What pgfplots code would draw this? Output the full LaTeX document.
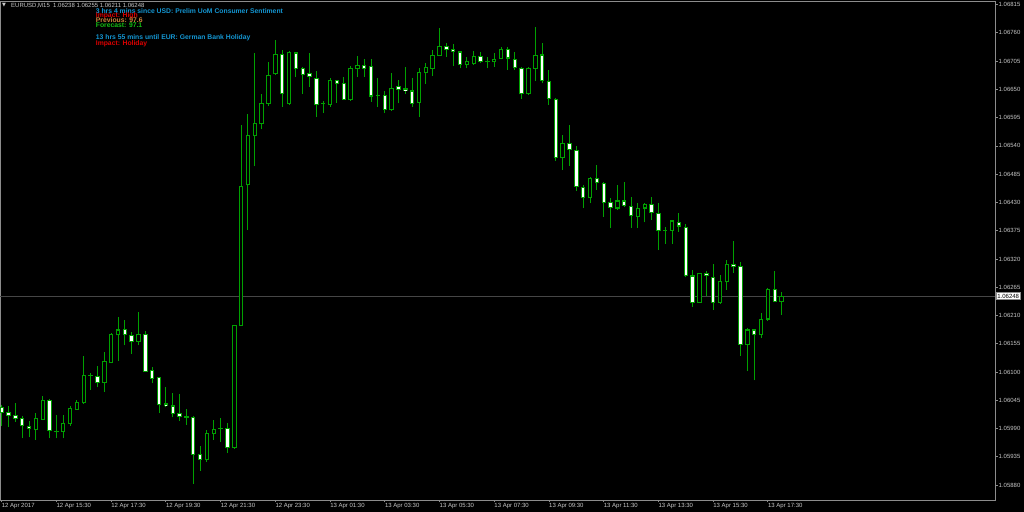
\documentclass[border=0pt]{standalone}
\usepackage{pgfplots}
\pgfplotsset{compat=1.18}
\usepackage{pgfplotstable}
\usepackage{fontspec}
\setmainfont{Liberation Sans}
\newfontfamily\symfont{DejaVu Sans}

\definecolor{cgreen}{RGB}{0,160,0}
\definecolor{cframe}{RGB}{140,140,140}
\definecolor{clabel}{RGB}{200,200,200}
\definecolor{cprice}{RGB}{70,70,70}
\definecolor{cnews}{RGB}{20,150,210}
\definecolor{cred}{RGB}{220,0,0}
\definecolor{cprev}{RGB}{205,130,60}
\definecolor{cfore}{RGB}{20,190,20}

% EURUSD M15, bar i = 12 Apr 13:30 + i*15min
\pgfplotstableread{
i o h l c
0 1.06032 1.06036 1.05995 1.06021
1 1.06021 1.06034 1.05993 1.06015
2 1.06016 1.06039 1.06003 1.06009
3 1.06010 1.06015 1.05971 1.05995
4 1.05995 1.06005 1.05973 1.05990
5 1.05988 1.06021 1.05968 1.06010
6 1.06008 1.06054 1.06006 1.06044
7 1.06045 1.06048 1.05971 1.05986
8 1.05984 1.06016 1.05971 1.05984
9 1.05984 1.06016 1.05971 1.06000
10 1.06000 1.06034 1.05995 1.06030
11 1.06027 1.06045 1.06026 1.06041
12 1.06040 1.06131 1.06038 1.06094
13 1.06094 1.06099 1.06066 1.06094
14 1.06092 1.06112 1.06070 1.06080
15 1.06080 1.06139 1.06062 1.06120
16 1.06118 1.06175 1.06117 1.06173
17 1.06172 1.06208 1.06122 1.06182
18 1.06183 1.06201 1.06152 1.06173
19 1.06172 1.06177 1.06136 1.06159
20 1.06159 1.06216 1.06152 1.06174
21 1.06173 1.06180 1.06100 1.06101
22 1.06103 1.06110 1.06078 1.06088
23 1.06090 1.06091 1.06020 1.06036
24 1.06038 1.06070 1.06031 1.06034
25 1.06034 1.06060 1.06012 1.06020
26 1.06019 1.06058 1.06005 1.06014
27 1.06014 1.06029 1.05997 1.06012
28 1.06012 1.06014 1.05883 1.05940
29 1.05940 1.05956 1.05908 1.05930
30 1.05930 1.05988 1.05925 1.05981
31 1.05981 1.06006 1.05968 1.05989
32 1.05990 1.06010 1.05964 1.05990
33 1.05990 1.06000 1.05942 1.05953
34 1.05953 1.06191 1.05951 1.06191
35 1.06191 1.06581 1.06191 1.06461
36 1.06464 1.06602 1.06376 1.06561
37 1.06561 1.06720 1.06500 1.06583
38 1.06583 1.06641 1.06572 1.06622
39 1.06623 1.06704 1.06618 1.06677
40 1.06680 1.06746 1.06678 1.06718
41 1.06718 1.06727 1.06616 1.06641
42 1.06622 1.06725 1.06620 1.06722
43 1.06721 1.06723 1.06675 1.06690
44 1.06690 1.06694 1.06642 1.06679
45 1.06681 1.06721 1.06655 1.06675
46 1.06672 1.06685 1.06596 1.06620
47 1.06622 1.06628 1.06604 1.06622
48 1.06620 1.06672 1.06616 1.06667
49 1.06667 1.06668 1.06624 1.06661
50 1.06662 1.06675 1.06629 1.06631
51 1.06630 1.06696 1.06628 1.06691
52 1.06690 1.06715 1.06675 1.06697
53 1.06697 1.06709 1.06675 1.06691
54 1.06695 1.06709 1.06626 1.06637
55 1.06639 1.06672 1.06616 1.06639
56 1.06639 1.06646 1.06604 1.06611
57 1.06610 1.06681 1.06608 1.06652
58 1.06655 1.06668 1.06623 1.06650
59 1.06651 1.06694 1.06642 1.06648
60 1.06647 1.06672 1.06616 1.06623
61 1.06624 1.06691 1.06596 1.06683
62 1.06683 1.06701 1.06661 1.06693
63 1.06691 1.06727 1.06676 1.06717
64 1.06716 1.06769 1.06715 1.06733
65 1.06733 1.06741 1.06714 1.06727
66 1.06727 1.06738 1.06696 1.06723
67 1.06723 1.06725 1.06691 1.06699
68 1.06699 1.06714 1.06691 1.06704
69 1.06701 1.06725 1.06698 1.06714
70 1.06714 1.06723 1.06701 1.06704
71 1.06704 1.06714 1.06691 1.06704
72 1.06704 1.06720 1.06694 1.06709
73 1.06710 1.06733 1.06709 1.06728
74 1.06728 1.06732 1.06688 1.06711
75 1.06709 1.06723 1.06688 1.06692
76 1.06690 1.06694 1.06631 1.06641
77 1.06641 1.06694 1.06639 1.06691
78 1.06691 1.06772 1.06666 1.06717
79 1.06717 1.06740 1.06662 1.06667
80 1.06666 1.06688 1.06620 1.06633
81 1.06631 1.06633 1.06511 1.06517
82 1.06517 1.06561 1.06493 1.06545
83 1.06545 1.06581 1.06501 1.06533
84 1.06532 1.06540 1.06453 1.06461
85 1.06460 1.06464 1.06419 1.06440
86 1.06439 1.06480 1.06428 1.06477
87 1.06476 1.06503 1.06454 1.06468
88 1.06467 1.06470 1.06402 1.06430
89 1.06430 1.06438 1.06380 1.06420
90 1.06419 1.06464 1.06415 1.06433
91 1.06433 1.06470 1.06422 1.06424
92 1.06423 1.06440 1.06381 1.06404
93 1.06403 1.06428 1.06380 1.06419
94 1.06419 1.06428 1.06391 1.06426
95 1.06426 1.06440 1.06396 1.06410
96 1.06409 1.06428 1.06337 1.06375
97 1.06376 1.06383 1.06350 1.06376
98 1.06376 1.06394 1.06350 1.06394
99 1.06391 1.06409 1.06373 1.06384
100 1.06382 1.06388 1.06284 1.06287
101 1.06287 1.06298 1.06227 1.06236
102 1.06236 1.06293 1.06234 1.06292
103 1.06292 1.06297 1.06247 1.06288
104 1.06285 1.06310 1.06221 1.06236
105 1.06236 1.06289 1.06233 1.06276
106 1.06276 1.06318 1.06260 1.06310
107 1.06310 1.06355 1.06293 1.06305
108 1.06305 1.06315 1.06132 1.06154
109 1.06154 1.06185 1.06102 1.06182
110 1.06182 1.06182 1.06084 1.06173
111 1.06173 1.06214 1.06167 1.06203
112 1.06203 1.06264 1.06199 1.06261
113 1.06260 1.06297 1.06236 1.06238
114 1.06238 1.06255 1.06211 1.06248
}\candles

\begin{document}
\begin{tikzpicture}
\useasboundingbox (0,0) rectangle (1024bp,512bp);
\fill[black] (0,0) rectangle (1024bp,512bp);
\begin{axis}[
  at={(0,12bp)}, anchor=south west,
  scale only axis, width=995bp, height=499bp,
  xmin=-0.25, xmax=145.2,
  ymin=1.05851, ymax=1.06822,
  axis line style={draw=cframe, line width=0.8bp},
  tick align=outside, major tick length=2.5bp,
  tick style={cframe, line width=0.8bp},
  xtick pos=bottom, ytick pos=right,
  yticklabel pos=right,
  xtick={0,8,...,112},
  xticklabels={12 Apr 2017, 12 Apr 15:30, 12 Apr 17:30, 12 Apr 19:30, 12 Apr 21:30, 12 Apr 23:30, 13 Apr 01:30, 13 Apr 03:30, 13 Apr 05:30, 13 Apr 07:30, 13 Apr 09:30, 13 Apr 11:30, 13 Apr 13:30, 13 Apr 15:30, 13 Apr 17:30},
  ytick={1.05880,1.05935,1.05990,1.06045,1.06100,1.06155,1.06210,1.06265,1.06320,1.06375,1.06430,1.06485,1.06540,1.06595,1.06650,1.06705,1.06760,1.06815},
  yticklabels={1.05880,1.05935,1.05990,1.06045,1.06100,1.06155,1.06210,1.06265,1.06320,1.06375,1.06430,1.06485,1.06540,1.06595,1.06650,1.06705,1.06760,1.06815},
  xticklabel style={font=\fontsize{6bp}{7bp}\selectfont, text=clabel, anchor=north west, inner sep=0pt, yshift=-1bp},
  yticklabel style={font=\fontsize{6bp}{7bp}\selectfont, text=clabel, anchor=west, inner sep=0pt, xshift=1bp},
]
% current price level
\addplot[cprice, line width=0.8bp, forget plot] coordinates {(-0.25,1.06248) (145.2,1.06248)};
% wicks
\addplot[draw=none, forget plot, error bars/.cd, y dir=plus, y explicit, error mark=none,
  error bar style={cgreen, line width=1bp}]
  table[x=i, y=l, y error plus expr={\thisrow{h}-\thisrow{l}}] {\candles};
% body outlines
\addplot[draw=none, forget plot, error bars/.cd, y dir=plus, y explicit, error mark=none,
  error bar style={cgreen, line width=4.4bp}]
  table[x=i, y expr={min(\thisrow{o},\thisrow{c})-0.000009},
        y error plus expr={abs(\thisrow{c}-\thisrow{o})+0.000018}] {\candles};
% bear bodies (white)
\addplot[draw=none, forget plot, error bars/.cd, y dir=plus, y explicit, error mark=none,
  error bar style={white, line width=2.4bp}]
  table[x=i, y expr={\thisrow{c}<\thisrow{o} ? \thisrow{c}+0.000012 : nan},
        y error plus expr={max(\thisrow{o}-\thisrow{c}-0.000024,0)}] {\candles};
% bull bodies (black)
\addplot[draw=none, forget plot, error bars/.cd, y dir=plus, y explicit, error mark=none,
  error bar style={black, line width=2.4bp}]
  table[x=i, y expr={\thisrow{c}>\thisrow{o} ? \thisrow{o}+0.000012 : nan},
        y error plus expr={max(\thisrow{c}-\thisrow{o}-0.000024,0)}] {\candles};
\end{axis}

% price box
\node[fill=white, draw=cframe, line width=0.5bp, text=black, inner xsep=1.6bp, inner ysep=1.3bp,
  anchor=west, font=\fontsize{6bp}{7bp}\selectfont] at (995.5bp,216bp) {1.06248};

% header
\node[anchor=west, inner sep=0pt, text=clabel, font=\symfont\fontsize{5bp}{6bp}\selectfont] at (2bp,506.3bp) {▼};
\node[anchor=base west, inner sep=0pt, text=clabel, font=\fontsize{6bp}{7bp}\selectfont] at (11bp,504.2bp) {EURUSD,M15 \ 1.06238 1.06255 1.06211 1.06248};

% news
\begin{scope}[every node/.style={anchor=base west, inner sep=0pt, font=\bfseries\fontsize{6.8bp}{7bp}\selectfont}]
\node[text=cnews] at (95.7bp,498.9bp) {3 hrs 4 mins since USD: Prelim UoM Consumer Sentiment};
\node[text=cred] at (95.7bp,494.3bp) {Impact: High};
\node[text=cprev] at (95.7bp,489.6bp) {Previous: 97.6};
\node[text=cfore] at (95.7bp,484.6bp) {Forecast: 97.1};
\node[text=cnews] at (95.7bp,472.3bp) {13 hrs 55 mins until EUR: German Bank Holiday};
\node[text=cred] at (95.7bp,466.9bp) {Impact: Holiday};
\end{scope}
\end{tikzpicture}
\end{document}
